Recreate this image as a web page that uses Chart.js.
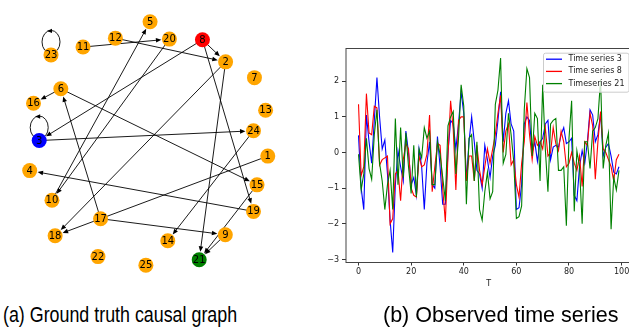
<!DOCTYPE html>
<html>
<head>
<meta charset="utf-8">
<script src="https://cdn.jsdelivr.net/npm/chart.js@4.4.1/dist/chart.umd.min.js"></script>
<style>
  html, body { margin: 0; padding: 0; background: #fff; }
  body { width: 629px; height: 331px; position: relative; overflow: hidden; }
  #graph-chart { position: absolute; left: 0; top: 0; }
  #series-chart { position: absolute; left: 300px; top: 30px; }
  .caption { position: absolute; font-family: "Liberation Sans", Arial, sans-serif; font-size: 21.5px; line-height: 1; color: #000; white-space: nowrap; transform-origin: 0 0; }
</style>
</head>
<body>
<canvas id="graph-chart" width="315" height="290"></canvas>
<canvas id="series-chart" width="340" height="270"></canvas>
<div class="caption" style="left:3px; top:305px; transform:scaleX(0.83);">(a) Ground truth causal graph</div>
<div class="caption" style="left:383px; top:305px;">(b) Observed time series</div>
<script>
// ---- graph (a) ----
const nodeIds = [1, 2, 3, 4, 5, 6, 7, 8, 9, 10, 11, 12, 13, 14, 15, 16, 17, 18, 19, 20, 21, 22, 23, 24, 25];
const nodeX = [273.3, 229, 33.3, 23.3, 149.7, 56, 259.3, 204.7, 228.7, 46.7, 79.3, 113.3, 271, 168.3, 262, 27.3, 97.7, 50, 258.3, 170, 201.3, 95, 45.7, 258.3, 145.3];
const nodeY = [156.7, 57.3, 140.3, 172, 15, 85.7, 74, 34, 239.7, 203.3, 41.7, 32.3, 108.3, 246, 187, 101, 222.7, 240.7, 215, 33.3, 266, 262.7, 50, 130, 271.7];
const edgeFrom = [11, 12, 8, 8, 8, 2, 2, 20, 10, 6, 6, 17, 3, 23, 3, 19, 24, 1, 17, 15, 9];
const edgeTo = [20, 2, 2, 3, 19, 18, 21, 10, 5, 16, 15, 6, 3, 23, 24, 4, 14, 18, 9, 21, 21];

// ---- time series (b) ----
const series3 = [0.48, -1.0, -1.6, 1.05, 0.3, -0.3, 0.9, 2.1, 1.0, 0.1, 0.35, -0.6, -1.9, -2.8, -0.9, 0.05, -0.4, -0.8, 0.6, 0.0,
  -0.9, -0.7, -1.2, 0.1, -0.4, -1.6, -0.3, 0.3, -0.9, -1.0, 0.45, -0.4, -1.45, -1.45, 0.0, 0.9, 0.8, 0.1, 0.8, 1.7,
  1.1, -0.8, 0.3, 1.0, 0.3, -0.5, -0.6, -1.0, 0.2, -0.2, -0.7, -0.1, 0.2, 0.9, 1.7, 0.3, 1.1, 1.45, 0.8, 0.6,
  -1.6, -1.55, -0.9, 0.8, 1.0, 0.9, 0.0, 0.3, -0.25, 0.3, 0.4, 0.8, 0.9, -0.2, 0.15, 0.2, 0.15, 0.5, 0.7, 0.25,
  0.3, 0.4, -1.2, -1.35, -0.4, 0.05, -0.3, 0.3, 1.2, 1.05, 0.3, 0.5, 1.1, -0.1, 0.15, 0.25, -0.1, -0.55, -0.6, -0.4];
const series8 = [1.35, -0.65, -0.4, 1.65, 0.55, 0.5, 1.3, 1.25, -0.35, -0.2, -0.15, -0.1, -2.0, -1.85, -0.6, -0.5, -1.35, -0.2, 0.25, 0.1,
  -1.0, -1.2, -1.25, -0.1, -0.4, -0.35, -0.05, 1.05, -1.1, -0.4, 0.25, 0.2, -1.0, -1.95, -0.1, 1.45, 0.65, -1.05, 0.9, 1.0,
  1.0, -0.8, -0.1, -0.1, -0.8, 0.2, -0.5, -0.9, -0.4, 0.1, -0.3, 0.1, 0.5, 1.1, 1.6, 0.0, 0.6, 0.8, -0.35, -0.2,
  -0.9, -1.25, -0.3, 0.3, 1.4, 0.5, -0.2, 0.45, 0.2, 0.3, 0.1, 0.7, -0.1, 0.0, 0.7, 0.25, 0.05, 0.6, 0.3, -0.4,
  -0.3, 0.0, -0.3, -0.5, -0.1, -0.95, 0.3, 0.2, 1.1, 0.75, -0.75, 0.3, 1.15, 0.1, 0.0, -0.2, -0.4, -0.8, -0.2, -0.05];
const series21 = [-0.05, -1.05, -0.6, 0.4, -0.45, -0.75, 0.5, 1.2, -0.3, -0.8, -1.6, -0.9, -0.5, -1.6, 0.95, -0.9, 0.7, -0.7, 0.55, -0.4,
  -1.15, 0.2, -1.25, 0.1, -0.15, 0.7, 0.4, 0.6, -0.9, -0.9, 0.3, -0.05, -0.7, -1.35, 0.75, 1.0, 1.15, -0.6, 0.4, 1.9,
  1.3, -1.45, 0.4, 0.5, -0.8, 0.3, -1.6, -1.9, -1.1, -0.55, -1.3, -1.1, 1.35, 1.75, 2.65, -0.3, -0.05, 1.1, 0.5, -0.25,
  -1.85, -1.8, -1.5, 1.2, 2.35, 2.1, -0.1, 1.1, 0.95, -0.8, 1.9, 0.1, -1.1, 0.8, 0.9, 0.95, -0.5, -0.5, -0.4, -2.05,
  0.4, 1.45, -1.65, 0.05, -0.4, -2.0, 0.3, 0.3, -0.45, 0.6, 0.7, 0.95, 2.05, -0.45, 0.2, 0.55, -2.15, -0.7, -1.05, -0.5];
const seriesLabels = ["Time series 3", "Time series 8", "Timeseries 21"];
const steps = series3.map((v, i) => i);
const xTicks = [0, 20, 40, 60, 80, 100];
const yTicks = [-3, -2, -1, 0, 1, 2];
const yTickLabels = ["\u22123", "\u22122", "\u22121", "0", "1", "2"];

const nodeRadius = 7.5;
const highlight = { 3: "#0000ff", 8: "#ff0000", 21: "#008000" };

function arrowHead(ctx, tx, ty, ux, uy, len, half) {
  ctx.beginPath();
  ctx.moveTo(tx, ty);
  ctx.lineTo(tx - ux * len - uy * half, ty - uy * len + ux * half);
  ctx.lineTo(tx - ux * len + uy * half, ty - uy * len - ux * half);
  ctx.closePath();
  ctx.fill();
}

const edgePlugin = {
  id: "edges",
  beforeDatasetsDraw(chart) {
    const { ctx, scales: { x, y } } = chart;
    const pos = id => {
      const i = nodeIds.indexOf(id);
      return [x.getPixelForValue(nodeX[i]), y.getPixelForValue(nodeY[i])];
    };
    ctx.save();
    ctx.strokeStyle = "#000";
    ctx.fillStyle = "#000";
    ctx.lineWidth = 0.9;
    edgeFrom.forEach((from, k) => {
      const [x1, y1] = pos(from);
      const [x2, y2] = pos(edgeTo[k]);
      if (from === edgeTo[k]) {
        const cy = y1 - 13;
        ctx.beginPath();
        ctx.ellipse(x1, cy, 9, 11.5, 0, 0, Math.PI * 2);
        ctx.stroke();
        arrowHead(ctx, x1 - 4, cy - 11, -1, 0, 5, 2.2);
        return;
      }
      const dx = x2 - x1, dy = y2 - y1;
      const d = Math.hypot(dx, dy);
      const ux = dx / d, uy = dy / d;
      const tx = x2 - ux * (nodeRadius + 0.5), ty = y2 - uy * (nodeRadius + 0.5);
      ctx.beginPath();
      ctx.moveTo(x1, y1);
      ctx.lineTo(tx - ux * 3, ty - uy * 3);
      ctx.stroke();
      arrowHead(ctx, tx, ty, ux, uy, 5.5, 2.3);
    });
    ctx.restore();
  },
  afterDatasetsDraw(chart) {
    const { ctx, scales: { x, y } } = chart;
    ctx.save();
    ctx.font = "10px 'DejaVu Sans'";
    ctx.fillStyle = "#000";
    ctx.textAlign = "center";
    ctx.textBaseline = "middle";
    nodeIds.forEach((id, i) => {
      ctx.fillText(String(id), x.getPixelForValue(nodeX[i]), y.getPixelForValue(nodeY[i]) + 0.5);
    });
    ctx.restore();
  },
};

new Chart(document.getElementById("graph-chart"), {
  type: "scatter",
  data: {
    datasets: [
      {
        data: nodeX.map((v, i) => ({ x: v, y: nodeY[i] })),
        pointRadius: nodeRadius,
        pointHoverRadius: nodeRadius,
        pointBackgroundColor: nodeIds.map(id => highlight[id] || "#ffa500"),
        pointBorderWidth: 0,
        clip: false,
      },
    ],
  },
  options: {
    responsive: false,
    animation: false,
    events: [],
    layout: { padding: 0 },
    scales: {
      x: { display: false, min: 0, max: 315 },
      y: { display: false, min: 0, max: 290, reverse: true },
    },
    plugins: { legend: { display: false }, tooltip: { enabled: false } },
  },
  plugins: [edgePlugin],
});

const framePlugin = {
  id: "frame",
  afterDraw(chart) {
    const { ctx, chartArea: a } = chart;
    ctx.save();
    ctx.strokeStyle = "#444";
    ctx.lineWidth = 1;
    ctx.strokeRect(a.left + 0.5, a.top + 0.5, a.right - a.left, a.bottom - a.top);

    // legend
    const bx = 243, by = 22.7, bw = 85.5, bh = 39;
    ctx.fillStyle = "rgba(255,255,255,0.8)";
    ctx.strokeStyle = "#cccccc";
    ctx.beginPath();
    ctx.roundRect(bx + 0.5, by + 0.5, bw, bh, 2);
    ctx.fill();
    ctx.stroke();
    ctx.font = "8px 'DejaVu Sans'";
    ctx.textBaseline = "middle";
    chart.data.datasets.forEach((ds, i) => {
      const ry = by + 6.5 + i * 12.2;
      ctx.strokeStyle = ds.borderColor;
      ctx.lineWidth = 1.3;
      ctx.beginPath();
      ctx.moveTo(bx + 3, ry);
      ctx.lineTo(bx + 19, ry);
      ctx.stroke();
      ctx.fillStyle = "#222";
      ctx.fillText(ds.label, bx + 25.5, ry);
    });
    ctx.restore();
  },
};

const tickFont = { family: "DejaVu Sans", size: 8 };

new Chart(document.getElementById("series-chart"), {
  type: "line",
  data: {
    labels: steps,
    datasets: [
      { label: seriesLabels[0], data: series3, borderColor: "#0000ff", order: 2 },
      { label: seriesLabels[1], data: series8, borderColor: "#ff0000", order: 1 },
      { label: seriesLabels[2], data: series21, borderColor: "#008000", order: 0 },
    ],
  },
  options: {
    responsive: false,
    animation: false,
    events: [],
    layout: { padding: { top: 18, right: 8, left: 0, bottom: 0 } },
    elements: { point: { radius: 0 }, line: { borderWidth: 1.1, tension: 0 } },
    scales: {
      x: {
        type: "linear",
        min: -4.95,
        max: 103.95,
        afterBuildTicks: s => { s.ticks = xTicks.map(v => ({ value: v })); },
        afterFit: s => { s.height = 38; },
        ticks: { font: tickFont, color: "#222", padding: 2, maxRotation: 0 },
        grid: { drawOnChartArea: false, drawTicks: true, tickLength: 3.5, tickColor: "#333" },
        border: { display: false },
        title: { display: true, text: "T", font: tickFont, color: "#222", padding: { top: 0, bottom: 11 } },
      },
      y: {
        min: -3.07,
        max: 2.93,
        afterBuildTicks: s => { s.ticks = yTicks.map(v => ({ value: v })); },
        afterFit: s => { s.width = 45.5; },
        ticks: { font: tickFont, color: "#222", padding: 3, callback: v => yTickLabels[yTicks.indexOf(v)] },
        grid: { drawOnChartArea: false, drawTicks: true, tickLength: 3.5, tickColor: "#333" },
        border: { display: false },
      },
    },
    plugins: { legend: { display: false }, tooltip: { enabled: false } },
  },
  plugins: [framePlugin],
});
</script>
</body>
</html>
